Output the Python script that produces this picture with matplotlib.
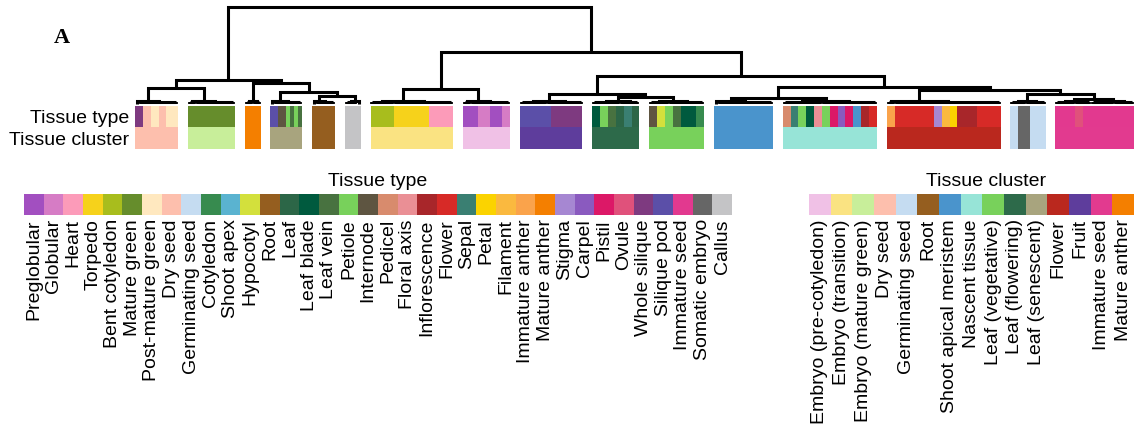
import matplotlib
matplotlib.use("Agg")
import matplotlib.pyplot as plt

plt.rcParams['font.family'] = ['Liberation Sans', 'DejaVu Sans']

# ---------------------------------------------------------------- data
tissue_types = [
    "Preglobular", "Globular", "Heart", "Torpedo", "Bent cotyledon",
    "Mature green", "Post-mature green", "Dry seed", "Germinating seed",
    "Cotyledon", "Shoot apex", "Hypocotyl", "Root", "Leaf", "Leaf blade",
    "Leaf vein", "Petiole", "Internode", "Pedicel", "Floral axis",
    "Inflorescence", "Flower", "Sepal", "Petal", "Filament",
    "Immature anther", "Mature anther", "Stigma", "Carpel", "Pistil",
    "Ovule", "Whole silique", "Silique pod", "Immature seed",
    "Somatic embryo", "Callus",
]
tissue_type_colors = [
    "#A24FC0", "#D67CC5", "#FC9BB9", "#F6D21B", "#A8BD1D",
    "#668D2C", "#FFE8BF", "#FDBFAD", "#C5DCF1",
    "#378B4F", "#5AB3D0", "#D3E03C", "#955E1F", "#2C6647", "#005A3E",
    "#487240", "#78D15B", "#5E5541", "#D88B6D", "#EA8F95",
    "#A8262A", "#D72A27", "#3A7F72", "#FBD300", "#FAB93F",
    "#FAA34B", "#F47F00", "#A687D2", "#8A5ABF", "#DC1867",
    "#E0517B", "#7E3A80", "#5B4FA8", "#E2398F",
    "#666666", "#C4C4C6",
]

tissue_clusters = [
    "Embryo (pre-cotyledon)", "Embryo (transition)", "Embryo (mature green)",
    "Dry seed", "Germinating seed", "Root", "Shoot apical meristem",
    "Nascent tissue", "Leaf (vegetative)", "Leaf (flowering)",
    "Leaf (senescent)", "Flower", "Fruit", "Immature seed", "Mature anther",
]
tissue_cluster_colors = [
    "#F0C1E6", "#FAE382", "#C8EE9A",
    "#FDBFAD", "#C5DCF1", "#955E1F", "#4A94CC",
    "#97E4D7", "#78D15B", "#2D6A4A",
    "#A8A47E", "#BA281E", "#5E3D9C", "#E23A8F", "#F47F00",
]

# samples that carry a label outside the two legends
other_labels = ["Shoot apical meristem", "Callus", "Somatic embryo"]
other_colors = ["#4A94CC", "#C4C4C6", "#666666"]

# tissue type of the samples in dendrogram order, one run list per sample group
group_type_runs = [
    [("Whole silique", 2), ("Dry seed", 2), ("Post-mature green", 2),
     ("Dry seed", 2), ("Post-mature green", 3)],
    [("Mature green", 12)],
    [("Mature anther", 4)],
    [("Silique pod", 2), ("Internode", 2), ("Petiole", 1), ("Leaf vein", 1),
     ("Petiole", 1), ("Leaf vein", 1)],
    [("Root", 6)],
    [("Callus", 4)],
    [("Bent cotyledon", 6), ("Torpedo", 9), ("Heart", 6)],
    [("Preglobular", 4), ("Globular", 3), ("Preglobular", 3), ("Globular", 2)],
    [("Silique pod", 8), ("Whole silique", 8)],
    [("Leaf blade", 2), ("Petiole", 2), ("Leaf vein", 2), ("Leaf", 2),
     ("Sepal", 2), ("Leaf", 2)],
    [("Internode", 2), ("Hypocotyl", 2), ("Petiole", 2), ("Leaf vein", 2),
     ("Leaf blade", 4), ("Cotyledon", 2)],
    [("Shoot apical meristem", 15)],
    [("Pedicel", 2), ("Sepal", 2), ("Petiole", 2), ("Leaf blade", 2),
     ("Floral axis", 2), ("Petiole", 2), ("Pistil", 2), ("Carpel", 2),
     ("Pistil", 2), ("Shoot apical meristem", 2), ("Inflorescence", 2),
     ("Flower", 2)],
    [("Immature anther", 2), ("Flower", 10), ("Stigma", 2), ("Filament", 2),
     ("Petal", 2), ("Inflorescence", 5), ("Flower", 6)],
    [("Germinating seed", 2), ("Somatic embryo", 3), ("Germinating seed", 4)],
    [("Immature seed", 5), ("Ovule", 2), ("Immature seed", 13)],
]

# tissue cluster of the same samples
group_cluster_runs = [
    [("Dry seed", 11)],
    [("Embryo (mature green)", 12)],
    [("Mature anther", 4)],
    [("Leaf (senescent)", 8)],
    [("Root", 6)],
    [("Callus", 4)],
    [("Embryo (transition)", 21)],
    [("Embryo (pre-cotyledon)", 12)],
    [("Fruit", 16)],
    [("Leaf (flowering)", 12)],
    [("Leaf (vegetative)", 14)],
    [("Shoot apical meristem", 15)],
    [("Nascent tissue", 24)],
    [("Flower", 29)],
    [("Germinating seed", 2), ("Somatic embryo", 3), ("Germinating seed", 4)],
    [("Immature seed", 20)],
]

# hierarchical clustering: (height, left, right); an integer k is a run of
# k neighbouring samples joined at the lowest level
comb_height = 1.4
linkage_tree = (96,
    (23,
        (15, (2.8, 1, 10), (2.8, 2, 10)),
        (20, (2.8, 2, 2),
             (11, (2.8, 1, 7),
                  (7, (2.8, 1, 5), (2.8, 3, 1))))),
    (51,
        (14, (2.8, 6, 15), (2.8, 2, 10)),
        (27,
            (9, (2.8, 7, 9), (6, (2.8, 7, 5), (2.8, 5, 9))),
            (16,
                (5, (2.8, 1, 14), (2.8, 10, 14)),
                (13, (2.8, 2, 27),
                     (9, (2.8, 4, 5),
                         (4, (2.8, 5, 4), (2.8, 6, 5))))))))

# ---------------------------------------------------------------- layout
W, H = 1138, 433
DPI = 100
group_gap = 2.5

type_color = dict(zip(tissue_types + other_labels,
                      tissue_type_colors + other_colors))
cluster_color = dict(zip(tissue_clusters + other_labels,
                         tissue_cluster_colors + other_colors))

# sample positions along the x axis, groups separated by a gap
positions, sample_types, sample_clusters = [], [], []
cursor = 0.0
for gi, (truns, cruns) in enumerate(zip(group_type_runs, group_cluster_runs)):
    if gi > 0:
        cursor += group_gap
    for name, k in truns:
        sample_types += [name] * k
    for name, k in cruns:
        sample_clusters += [name] * k
    n = sum(k for _, k in truns)
    positions += [cursor + j + 0.5 for j in range(n)]
    cursor += n
x_total = cursor


def fig_axes(x0, y0, x1, y1):
    return fig.add_axes([x0 / W, 1 - y1 / H, (x1 - x0) / W, (y1 - y0) / H])


fig = plt.figure(figsize=(W / DPI, H / DPI), dpi=DPI)

# ---------------------------------------------------------------- dendrogram
ax_d = fig_axes(135, 7, 1134, 103.5)
ax_d.set_xlim(0, x_total)
ax_d.set_ylim(0, 96)
ax_d.axis("off")

line_kw = dict(color="black", lw=2.2, solid_joinstyle="miter",
               solid_capstyle="butt", clip_on=False)
comb_kw = dict(line_kw, lw=2.7)
leaf_iter = iter(positions)


def draw(node):
    if isinstance(node, int):
        xs = [next(leaf_iter) for _ in range(node)]
        if node == 1:
            return xs[0], 0.0
        for x in xs:
            ax_d.plot([x, x], [0, comb_height], **comb_kw)
        ax_d.plot([xs[0], xs[-1]], [comb_height, comb_height], **line_kw)
        return sum(xs) / len(xs), comb_height
    h, left, right = node
    xl, hl = draw(left)
    xr, hr = draw(right)
    ax_d.plot([xl, xl, xr, xr], [hl, h, h, hr], **line_kw)
    return (xl + xr) / 2, h


draw(linkage_tree)

# ---------------------------------------------------------------- colour rows
ax_b = fig_axes(135, 106, 1134, 149)
ax_b.set_xlim(0, x_total)
ax_b.set_ylim(0, 2)
ax_b.bar(positions, 1, width=1.0, bottom=1,
         color=[type_color[t] for t in sample_types], linewidth=0,
         antialiased=False)
ax_b.bar(positions, 1, width=1.0, bottom=0,
         color=[cluster_color[c] for c in sample_clusters], linewidth=0,
         antialiased=False)
for s in ax_b.spines.values():
    s.set_visible(False)
ax_b.set_xticks([])
ax_b.set_yticks([1.5, 0.5], ["Tissue type", "Tissue cluster"], fontsize=14)
ax_b.tick_params(axis="y", length=0, pad=4)

# ---------------------------------------------------------------- legends
def legend_strip(ax, names, colors):
    n = len(names)
    ax.bar(range(n), 1, width=1.0, color=colors, linewidth=0,
           antialiased=False)
    ax.set_xlim(-0.5, n - 0.5)
    ax.set_ylim(0, 1)
    for s in ax.spines.values():
        s.set_visible(False)
    ax.set_yticks([])
    ax.set_xticks(range(n), names, rotation=90, fontsize=14)
    ax.tick_params(axis="x", length=0, pad=3)


ax_l1 = fig_axes(24, 194, 732, 215)
legend_strip(ax_l1, tissue_types, tissue_type_colors)
fig.text(378 / W, 1 - 181 / H, "Tissue type", ha="center", va="center",
         fontsize=14)

ax_l2 = fig_axes(809, 194, 1134, 215)
legend_strip(ax_l2, tissue_clusters, tissue_cluster_colors)
fig.text(986 / W, 1 - 181 / H, "Tissue cluster", ha="center", va="center",
         fontsize=14)

fig.text(62 / W, 1 - 43 / H, "A", ha="center", va="baseline", fontsize=16,
         fontweight="bold", family=["Liberation Serif", "DejaVu Serif"])

fig.savefig("out.png", dpi=DPI)
